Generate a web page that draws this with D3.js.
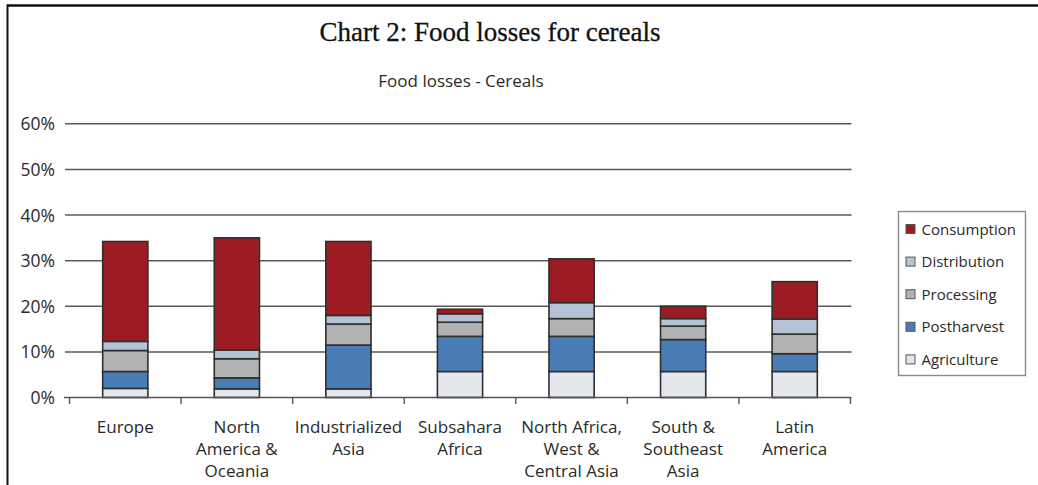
<!DOCTYPE html>
<html>
<head>
<meta charset="utf-8">
<script src="https://cdn.jsdelivr.net/npm/d3@7/dist/d3.min.js"></script>
<style>
  html, body { margin: 0; padding: 0; background: #fff; }
  svg { display: block; }
</style>
</head>
<body>
<svg id="chart" width="1038" height="485"></svg>
<script>
// Regions (x axis), with their wrapped label lines
const categories = [
  "Europe", "North America & Oceania", "Industrialized Asia", "Subsahara Africa",
  "North Africa, West & Central Asia", "South & Southeast Asia", "Latin America"
];
const categoryLines = [
  ["Europe"],
  ["North", "America &", "Oceania"],
  ["Industrialized", "Asia"],
  ["Subsahara", "Africa"],
  ["North Africa,", "West &", "Central Asia"],
  ["South &", "Southeast", "Asia"],
  ["Latin", "America"]
];

// Share of cereals lost at each stage of the supply chain (%)
const agriculture  = [2.0, 1.9, 1.9, 5.7, 5.7, 5.7, 5.7];
const postharvest  = [3.7, 2.4, 9.6, 7.7, 7.7, 7.0, 3.9];
const processing   = [4.6, 4.2, 4.6, 3.1, 3.9, 2.95, 4.3];
const distribution = [2.0, 1.9, 1.9, 1.85, 3.5, 1.65, 3.3];
const consumption  = [21.9, 24.6, 16.2, 1.0, 9.6, 2.7, 8.2];

const seriesNames = ["Agriculture", "Postharvest", "Processing", "Distribution", "Consumption"];
const seriesValues = [agriculture, postharvest, processing, distribution, consumption];
const yTicks = [0, 10, 20, 30, 40, 50, 60];

const colors = {
  Agriculture: "#e4e8ec",
  Postharvest: "#4a7db6",
  Processing: "#b2b2b2",
  Distribution: "#b4c4d4",
  Consumption: "#9d1b22"
};

const rows = categories.map((c, i) => {
  const r = { category: c };
  seriesNames.forEach((s, k) => { r[s] = seriesValues[k][i]; });
  return r;
});

const svg = d3.select("#chart");
const FONT = "'Open Sans', sans-serif";
const TEXT = "#2a2a2a";

// Outer frame (top and left rules)
svg.append("line").attr("x1", 7).attr("x2", 1038).attr("y1", 5.5).attr("y2", 5.5)
  .attr("stroke", "#111").attr("stroke-width", 2.5);
svg.append("line").attr("x1", 7.5).attr("x2", 7.5).attr("y1", 4.5).attr("y2", 485)
  .attr("stroke", "#111").attr("stroke-width", 2);

// Titles
svg.append("text").attr("x", 490).attr("y", 41).attr("text-anchor", "middle")
  .attr("font-family", "'Liberation Serif', serif").attr("font-size", 27).attr("fill", "#111")
  .attr("stroke", "#111").attr("stroke-width", 0.3)
  .text("Chart 2: Food losses for cereals");
svg.append("text").attr("x", 461).attr("y", 87).attr("text-anchor", "middle")
  .attr("font-family", FONT).attr("font-size", 17).attr("fill", TEXT)
  .text("Food losses - Cereals");

// Scales
const x = d3.scaleBand().domain(categories).range([69.5, 850.5]).padding(0);
const y = d3.scaleLinear().domain([0, 60]).range([397.5, 123.8]);
const barW = x.bandwidth() * 0.405;

// Gridlines
svg.append("g").selectAll("line").data(yTicks.filter(t => t > 0)).join("line")
  .attr("x1", 65).attr("x2", 851.5)
  .attr("y1", d => y(d)).attr("y2", d => y(d))
  .attr("stroke", "#5a5a5a").attr("stroke-width", 1.5);

// Y tick labels
svg.append("g").selectAll("text").data(yTicks).join("text")
  .attr("x", 55).attr("y", d => y(d) + 6.5)
  .attr("text-anchor", "end")
  .attr("font-family", FONT).attr("font-size", 17.5).attr("fill", TEXT)
  .text(d => d + "%");

// Stacked bars
const stack = d3.stack().keys(seriesNames)(rows);
const layers = svg.append("g").selectAll("g").data(stack).join("g")
  .attr("fill", d => colors[d.key]);
layers.selectAll("rect").data(d => d).join("rect")
  .attr("x", d => x(d.data.category) + (x.bandwidth() - barW) / 2)
  .attr("width", barW)
  .attr("y", d => y(d[1]))
  .attr("height", d => y(d[0]) - y(d[1]))
  .attr("stroke", "#2f2f2f").attr("stroke-width", 1.6);

// X axis
const xAxis = svg.append("g");
xAxis.append("line").attr("x1", 64).attr("x2", 851.5).attr("y1", 397.5).attr("y2", 397.5)
  .attr("stroke", "#555").attr("stroke-width", 1.6);
const tickXs = categories.map(c => x(c)).concat([x(categories[categories.length - 1]) + x.bandwidth()]);
xAxis.selectAll("line.tick").data(tickXs).join("line").attr("class", "tick")
  .attr("x1", d => d).attr("x2", d => d).attr("y1", 397.5).attr("y2", 404)
  .attr("stroke", "#555").attr("stroke-width", 1.4);

// Category labels
const lab = svg.append("g").selectAll("text").data(categories).join("text")
  .attr("text-anchor", "middle")
  .attr("font-family", FONT).attr("font-size", 17).attr("fill", TEXT);
lab.each(function (c, i) {
  const t = d3.select(this);
  categoryLines[i].forEach((line, j) => {
    t.append("tspan").attr("x", x(c) + x.bandwidth() / 2).attr("y", 433 + j * 22).text(line);
  });
});

// Legend
const legend = svg.append("g");
legend.append("rect").attr("x", 898.5).attr("y", 211.5).attr("width", 127).attr("height", 164)
  .attr("fill", "#fff").attr("stroke", "#8a8a8a").attr("stroke-width", 1.4);
const legendOrder = seriesNames.slice().reverse();
const items = legend.selectAll("g.item").data(legendOrder).join("g").attr("class", "item")
  .attr("transform", (d, i) => `translate(906, ${229 + i * 32.6})`);
items.append("rect").attr("x", 0).attr("y", -4.5).attr("width", 9).attr("height", 9)
  .attr("fill", d => colors[d]).attr("stroke", "#555").attr("stroke-width", 1);
items.append("text").attr("x", 15.5).attr("y", 5.5)
  .attr("font-family", FONT).attr("font-size", 15).attr("fill", TEXT)
  .text(d => d);
</script>
</body>
</html>
